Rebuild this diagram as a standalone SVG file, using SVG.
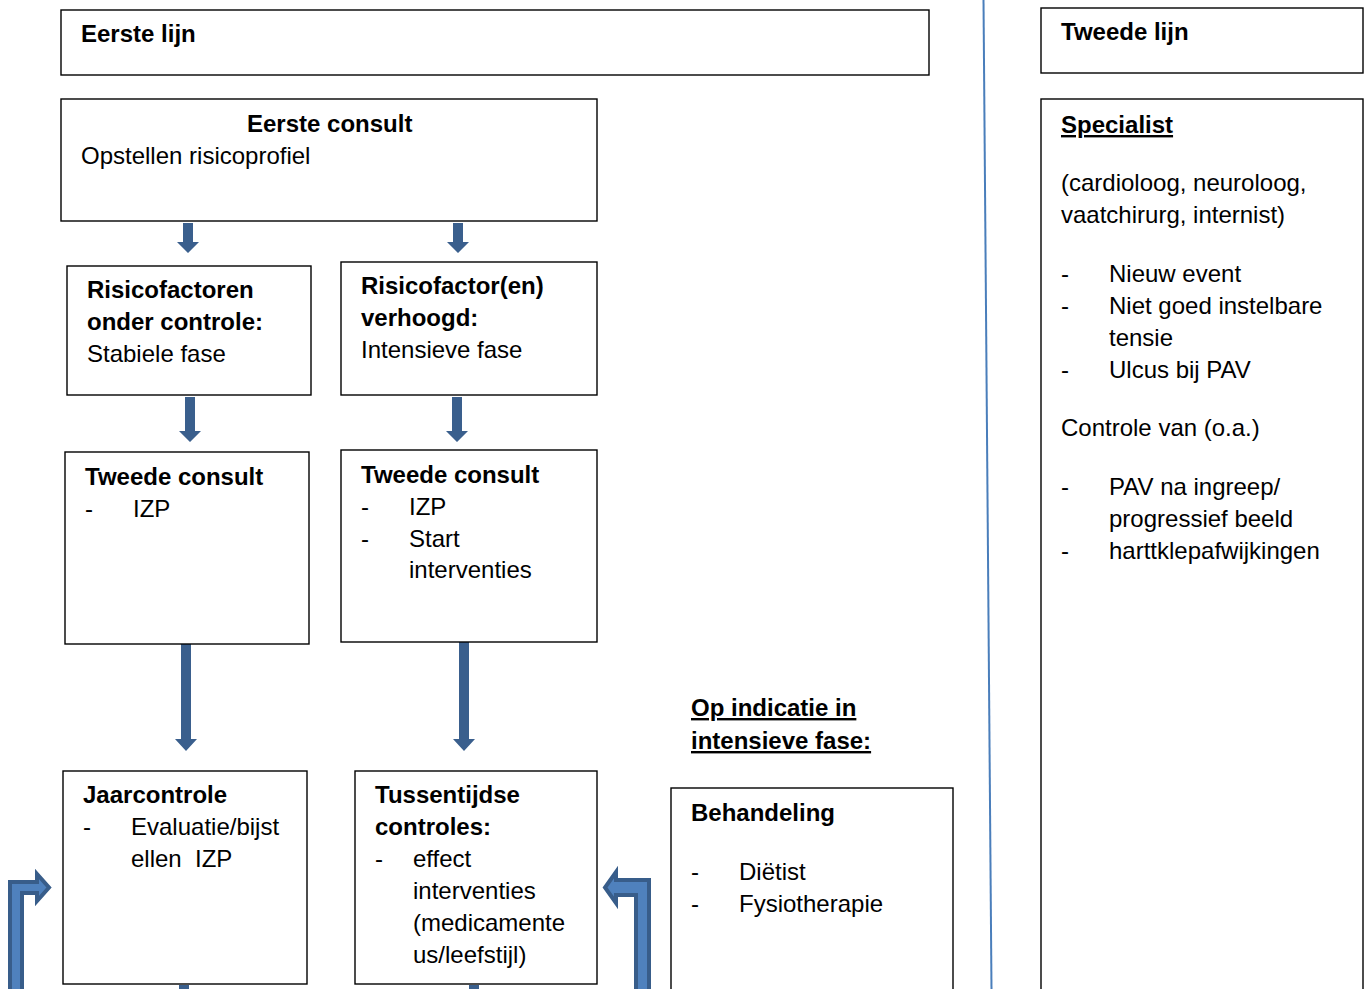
<svg xmlns="http://www.w3.org/2000/svg" width="1367" height="989" viewBox="0 0 1367 989">
<style>
.box{fill:#fff;stroke:#000;stroke-width:1.4}
text{font-family:"Liberation Sans",Arial,sans-serif;font-size:24px;fill:#000}
.b{font-weight:bold}
.u{text-decoration:underline}
.arr{fill:#3a5f8d}
.bent{fill:#4f81bd;stroke:#385d8a;stroke-width:4;stroke-linejoin:miter}
</style>
<rect width="1367" height="989" fill="#fff"/>
<g id="connectors">
<line x1="983.5" y1="0" x2="991.5" y2="989" stroke="#4a7ebb" stroke-width="2"/>
<path class="arr" d="M183,223 H193 V242 H199 L188,253 L177,242 H183 Z"/>
<path class="arr" d="M453,223 H463 V242 H469 L458,253 L447,242 H453 Z"/>
<path class="arr" d="M185,397 H195 V431 H201 L190,442 L179,431 H185 Z"/>
<path class="arr" d="M452,397 H462 V431 H468 L457,442 L446,431 H452 Z"/>
<path class="arr" d="M181,643 H191 V739 H197 L186,751 L175,739 H181 Z"/>
<path class="arr" d="M459,642 H469 V739 H475 L464,751 L453,739 H459 Z"/>
<rect class="arr" x="179" y="985" width="10" height="6"/>
<rect class="arr" x="469" y="985" width="10" height="6"/>
<path class="bent" d="M10,995 L10,882 L37,882 L37,874 L49,887.5 L37,901 L37,893 L22,893 L22,995 Z"/>
<path class="bent" d="M649,995 L649,880 L616,880 L616,872 L605,887.5 L616,903 L616,895 L636,895 L636,995 Z"/>
</g>
<g id="eerste-lijn">
<rect class="box" x="61" y="10" width="868" height="65"/>
<text class="b" x="81" y="42">Eerste lijn</text>
</g>
<g id="tweede-lijn">
<rect class="box" x="1041" y="8" width="322" height="65"/>
<text class="b" x="1061" y="40">Tweede lijn</text>
</g>
<g id="specialist">
<rect class="box" x="1041" y="99" width="322" height="900"/>
<text class="b u" x="1061" y="133">Specialist</text>
<text x="1061" y="191">(cardioloog, neuroloog,</text>
<text x="1061" y="223">vaatchirurg, internist)</text>
<text x="1061" y="282">-</text><text x="1109" y="282">Nieuw event</text>
<text x="1061" y="314">-</text><text x="1109" y="314">Niet goed instelbare</text>
<text x="1109" y="346">tensie</text>
<text x="1061" y="378">-</text><text x="1109" y="378">Ulcus bij PAV</text>
<text x="1061" y="436">Controle van (o.a.)</text>
<text x="1061" y="495">-</text><text x="1109" y="495">PAV na ingreep/</text>
<text x="1109" y="527">progressief beeld</text>
<text x="1061" y="559">-</text><text x="1109" y="559">harttklepafwijkingen</text>
</g>
<g id="eerste-consult">
<rect class="box" x="61" y="99" width="536" height="122"/>
<text class="b" x="247" y="132">Eerste consult</text>
<text x="81" y="164">Opstellen risicoprofiel</text>
</g>
<g id="onder-controle">
<rect class="box" x="67" y="266" width="244" height="129"/>
<text class="b" x="87" y="298">Risicofactoren</text>
<text class="b" x="87" y="330">onder controle:</text>
<text x="87" y="362">Stabiele fase</text>
</g>
<g id="verhoogd">
<rect class="box" x="341" y="262" width="256" height="133"/>
<text class="b" x="361" y="294">Risicofactor(en)</text>
<text class="b" x="361" y="326">verhoogd:</text>
<text x="361" y="358">Intensieve fase</text>
</g>
<g id="tweede-consult-stabiel">
<rect class="box" x="65" y="452" width="244" height="192"/>
<text class="b" x="85" y="485">Tweede consult</text>
<text x="85" y="517">-</text><text x="133" y="517">IZP</text>
</g>
<g id="tweede-consult-intensief">
<rect class="box" x="341" y="450" width="256" height="192"/>
<text class="b" x="361" y="483">Tweede consult</text>
<text x="361" y="515">-</text><text x="409" y="515">IZP</text>
<text x="361" y="547">-</text><text x="409" y="547">Start</text>
<text x="409" y="578">interventies</text>
</g>
<g id="op-indicatie">
<text class="b u" x="691" y="716">Op indicatie in</text>
<text class="b u" x="691" y="749">intensieve fase:</text>
</g>
<g id="jaarcontrole">
<rect class="box" x="63" y="771" width="244" height="213"/>
<text class="b" x="83" y="803">Jaarcontrole</text>
<text x="83" y="835">-</text><text x="131" y="835">Evaluatie/bijst</text>
<text x="131" y="867" xml:space="preserve">ellen  IZP</text>
</g>
<g id="tussentijdse">
<rect class="box" x="355" y="771" width="242" height="213"/>
<text class="b" x="375" y="803">Tussentijdse</text>
<text class="b" x="375" y="835">controles:</text>
<text x="375" y="867">-</text><text x="413" y="867">effect</text>
<text x="413" y="899">interventies</text>
<text x="413" y="931">(medicamente</text>
<text x="413" y="963">us/leefstijl)</text>
</g>
<g id="behandeling">
<rect class="box" x="671" y="788" width="282" height="210"/>
<text class="b" x="691" y="821">Behandeling</text>
<text x="691" y="880">-</text><text x="739" y="880">Diëtist</text>
<text x="691" y="912">-</text><text x="739" y="912">Fysiotherapie</text>
</g>
</svg>
